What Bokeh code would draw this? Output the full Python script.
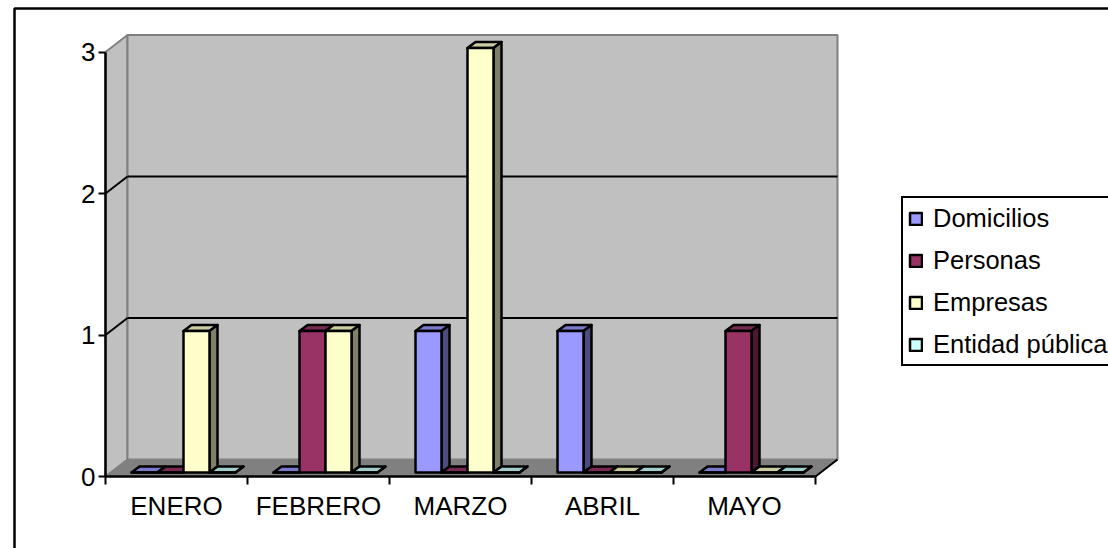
from bokeh.plotting import figure
from bokeh.models import Legend, LegendItem, FixedTicker, Range1d, LinearAxis
from bokeh.embed import file_html
from bokeh.resources import INLINE

categories = ["ENERO", "FEBRERO", "MARZO", "ABRIL", "MAYO"]
series_names = ["Domicilios", "Personas", "Empresas", "Entidad pública"]
domicilios = [0, 0, 1, 1, 0]
personas = [0, 1, 0, 0, 1]
empresas = [1, 1, 3, 0, 0]
entidad = [0, 0, 0, 0, 0]
y_ticks = [0, 1, 2, 3]
front_colors = ["#9999FF", "#993366", "#FFFFCC", "#CCFFFF"]
top_colors = ["#7A7ACC", "#7A2952", "#CCCCA3", "#A3CCCC"]
side_colors = ["#4C4C7F", "#4C1933", "#80806A", "#668080"]

PX_X = 142.0   # pixels per category
PX_Y = 141.5   # pixels per value unit
W, H = 1108, 548
OX, OY = 105, 476   # where category 0 / value 0 falls in the picture
FONT = "Liberation Sans"

p = figure(width=W, height=H, output_backend="svg", toolbar_location=None,
           min_border_left=0, min_border_right=0, min_border_top=0, min_border_bottom=0,
           x_range=Range1d(-OX / PX_X, (W - OX) / PX_X), y_range=Range1d(-(H - OY) / PX_Y, OY / PX_Y),
           x_axis_type=None, y_axis_type=None,
           outline_line_color=None, background_fill_color="white")
p.grid.visible = False

n = len(categories)
dx, dy = 22 / PX_X, 17 / PX_Y   # depth of the box
top = 3.0

# surrounding frame of the chart, running off the window on the right and below
fx = (14 - OX) / PX_X
fy = (OY - 8) / PX_Y
p.line([(W + 20 - OX) / PX_X, fx, fx], [fy, fy, -(H + 20 - OY) / PX_Y], line_color="black", line_width=2.5)

# walls and floor
p.patch([0, dx, dx, 0], [0, dy, top + dy, top], fill_color="#C0C0C0", line_color="#808080", line_width=2)
p.patch([dx, n + dx, n + dx, dx], [dy, dy, top + dy, top + dy], fill_color="#C0C0C0", line_color="#808080", line_width=2)
p.multi_line([[dx, n + dx] for _ in y_ticks[1:-1]], [[t + dy, t + dy] for t in y_ticks[1:-1]],
             line_color="black", line_width=2)
p.multi_line([[0, dx] for _ in y_ticks[1:-1]], [[t, t + dy] for t in y_ticks[1:-1]],
             line_color="black", line_width=2)
p.patch([0, n, n + dx, dx], [0, 0, dy, dy], fill_color="#808080", line_color="#808080", line_width=1)
p.line([n, n + dx], [0, dy], line_color="black", line_width=2)

# bars
bar_w = 26 / PX_X
bar_x0 = 26 / PX_X
bar_y0 = 4 / PX_Y
ddx, ddy = 8 / PX_X, 6 / PX_Y
items = []
for s, vals in enumerate([domicilios, personas, empresas, entidad]):
    xl = [i + bar_x0 + s * bar_w for i in range(n)]
    xr = [x + bar_w for x in xl]
    yt = [bar_y0 + v for v in vals]
    yb = [bar_y0] * n
    kw = dict(line_color="black", line_width=2.5, line_join="round")
    p.patches([[a, b, b + ddx, a + ddx] for a, b in zip(xl, xr)],
              [[t, t, t + ddy, t + ddy] for t in yt], fill_color=top_colors[s], **kw)
    p.patches([[b, b + ddx, b + ddx, b] for b in xr],
              [[bo, bo + ddy, t + ddy, t] for bo, t in zip(yb, yt)], fill_color=side_colors[s], **kw)
    front = p.patches([[a, b, b, a] for a, b in zip(xl, xr)],
                      [[bo, bo, t, t] for bo, t in zip(yb, yt)], fill_color=front_colors[s], **kw)
    items.append(LegendItem(label=series_names[s], renderers=[front]))

# axes
xa = LinearAxis(fixed_location=0, ticker=FixedTicker(ticks=[i + 0.5 for i in range(n)], minor_ticks=list(range(n + 1))))
xa.major_label_overrides = {i + 0.5: c for i, c in enumerate(categories)}
xa.bounds = (0, n)
xa.major_tick_line_color = None
xa.major_tick_in, xa.major_tick_out = 0, 0
xa.minor_tick_in, xa.minor_tick_out = 0, 8
xa.minor_tick_line_color = "black"
xa.minor_tick_line_width = 2
xa.axis_line_color = "black"
xa.axis_line_width = 2.5
xa.major_label_text_font = FONT
xa.major_label_text_font_size = "26px"
xa.major_label_text_color = "black"
xa.major_label_standoff = 6
p.add_layout(xa, "below")

ya = LinearAxis(fixed_location=0, ticker=FixedTicker(ticks=y_ticks, minor_ticks=[]))
ya.bounds = (0, 3)
ya.major_tick_in, ya.major_tick_out = 0, 7
ya.major_tick_line_color = "black"
ya.major_tick_line_width = 2
ya.axis_line_color = "black"
ya.axis_line_width = 2.5
ya.major_label_text_font = FONT
ya.major_label_text_font_size = "26px"
ya.major_label_text_color = "black"
ya.major_label_standoff = 3
p.add_layout(ya, "left")

legend = Legend(items=items, location=(901, H - 366), orientation="vertical",
                border_line_color="black", border_line_width=2.5, border_line_alpha=1, background_fill_alpha=1,
                label_text_font=FONT, label_text_font_size="25.5px", label_text_color="black",
                glyph_width=15, glyph_height=15, spacing=12, padding=5, margin=0, label_standoff=10,
                label_height=30)
p.add_layout(legend, "center")

open("out.html", "w").write(file_html(p, INLINE))
